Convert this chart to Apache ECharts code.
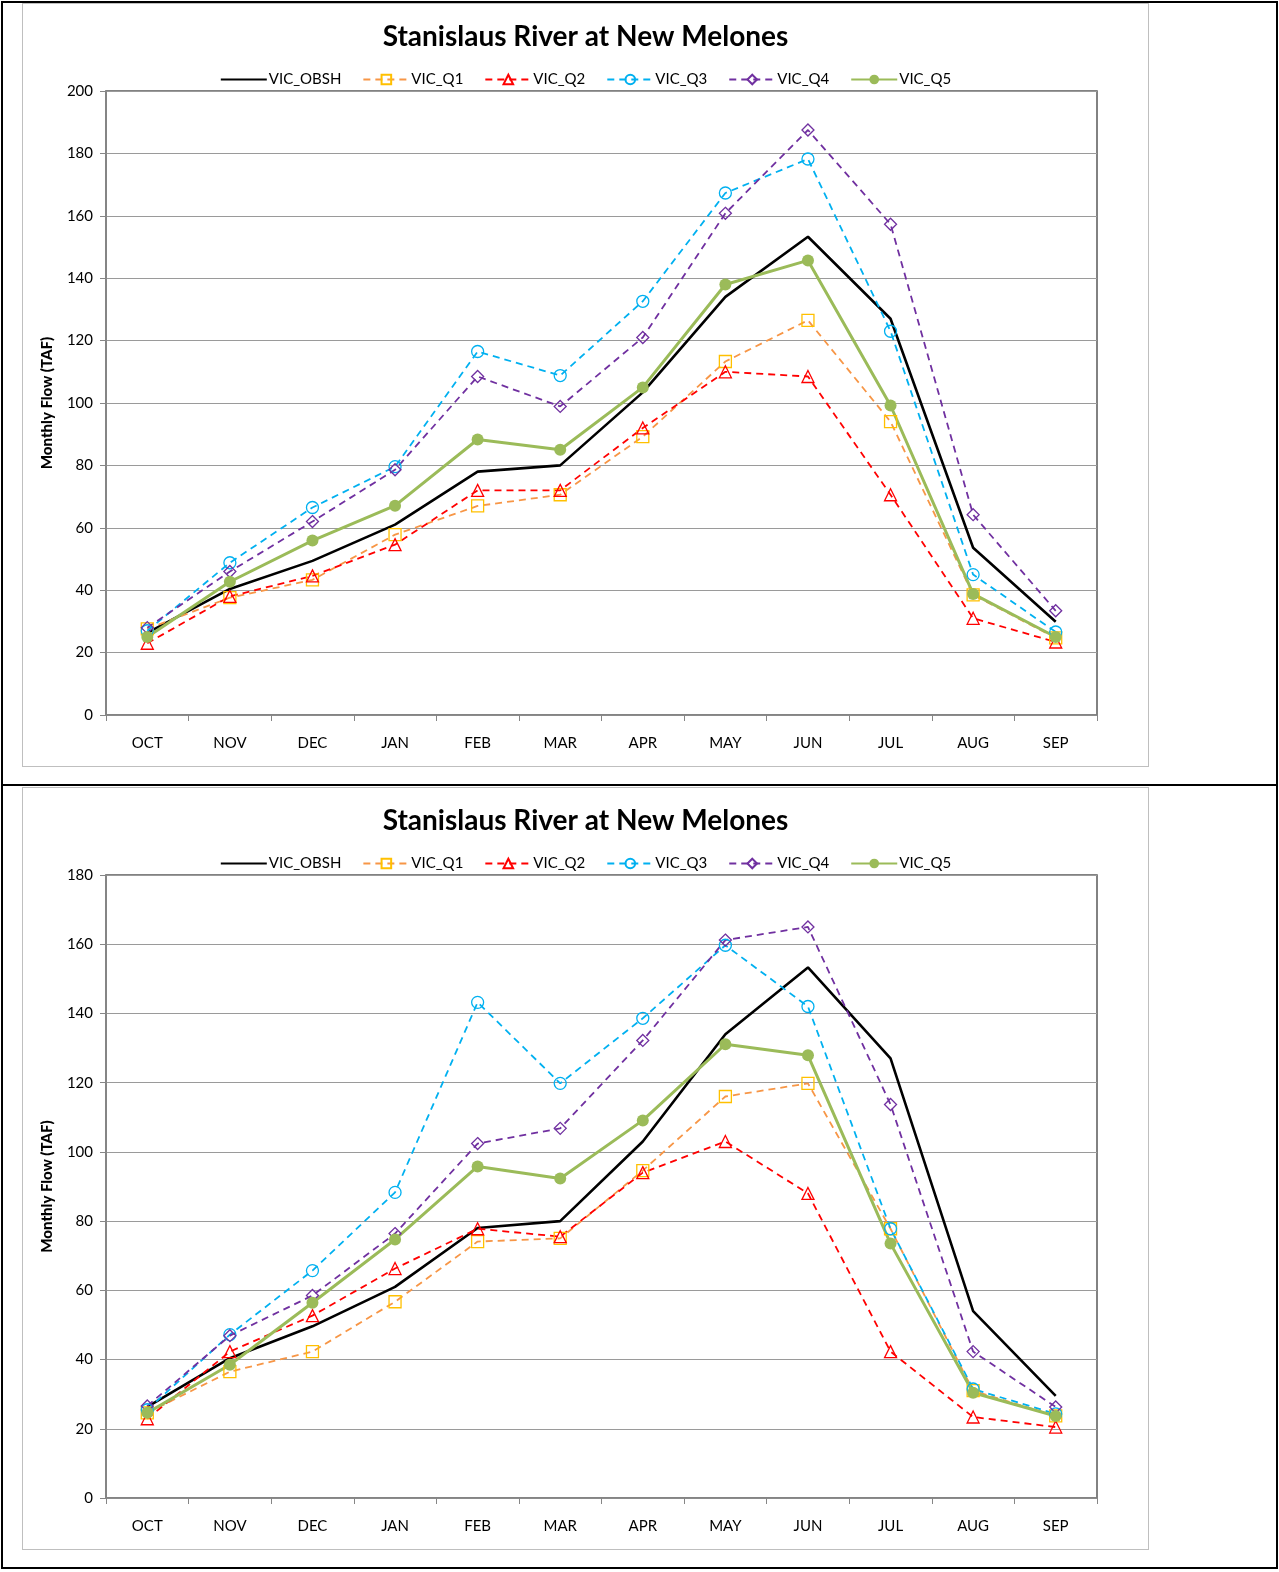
<!DOCTYPE html>
<html>
<head>
<meta charset="utf-8">
<script src="https://cdn.jsdelivr.net/npm/echarts@6/dist/echarts.min.js"></script>
<style>
  html, body { margin: 0; padding: 0; background: #fff; }
  #page { position: relative; width: 1279px; height: 1572px; }
  .frame { position: absolute; border: 2px solid #000; box-sizing: border-box; }
  .box { position: absolute; border: 1px solid #bfbfbf; box-sizing: border-box; }
  .chart { position: absolute; }
</style>
</head>
<body>
<div id="page">
  <div class="frame" style="left:1px;top:1px;width:1277px;height:785px;"></div>
  <div class="frame" style="left:1px;top:784px;width:1277px;height:785px;"></div>
  <div class="box" style="left:22px;top:3px;width:1127px;height:764px;"></div>
  <div class="box" style="left:22px;top:787px;width:1127px;height:763px;"></div>
  <div id="chartTop" class="chart" style="left:22px;top:3px;width:1127px;height:764px;"></div>
  <div id="chartBottom" class="chart" style="left:22px;top:787px;width:1127px;height:763px;"></div>
</div>
<script>
const months = ["OCT", "NOV", "DEC", "JAN", "FEB", "MAR", "APR", "MAY", "JUN", "JUL", "AUG", "SEP"];
const seriesNames = ["VIC_OBSH", "VIC_Q1", "VIC_Q2", "VIC_Q3", "VIC_Q4", "VIC_Q5"];

// top panel
const obshTop = [26.3, 40.4, 49.4, 61, 78, 80, 103.4, 134, 153.3, 127, 53.6, 29.9];
const q1Top = [27.6, 37.6, 43.3, 57.8, 67, 70.6, 89.2, 113.3, 126.5, 94, 38.5, 24.7];
const q2Top = [23, 38, 44.6, 54.6, 72, 72, 92, 110, 108.5, 70.6, 31, 23.4];
const q3Top = [27, 48.8, 66.5, 79.6, 116.5, 108.8, 132.6, 167.3, 178.2, 123, 45, 26.6];
const q4Top = [28, 46, 62, 78.6, 108.5, 98.9, 121, 160.8, 187.5, 157.3, 64.2, 33.4];
const q5Top = [25, 42.7, 55.9, 67.1, 88.3, 85, 105, 138, 145.7, 99.2, 38.8, 25];

// bottom panel
const obshBottom = [26.3, 40.4, 49.6, 61, 78, 80, 103, 134, 153.3, 127, 54, 29.5];
const q1Bottom = [24.6, 36.5, 42.3, 56.7, 74.1, 75, 94.6, 116, 119.8, 77.8, 31, 23.7];
const q2Bottom = [22.9, 42.3, 52.7, 66.3, 77.8, 75.5, 94, 103, 88, 42.3, 23.4, 20.5];
const q3Bottom = [25.5, 47.2, 65.7, 88.3, 143.2, 119.8, 138.6, 159.7, 142, 77.8, 31.5, 24.3];
const q4Bottom = [26.6, 46.9, 58.5, 76.4, 102.4, 106.8, 132.2, 161.2, 165, 113.7, 42.3, 26.3];
const q5Bottom = [24.6, 38.5, 56.4, 74.7, 95.8, 92.3, 109.1, 131.1, 127.9, 73.5, 30.4, 23.7];

const font = "Lato";

function dashed(name, data, lineColor, markColor, symbol) {
  return {
    name: name,
    type: "line",
    data: data,
    symbol: symbol,
    symbolSize: 12,
    lineStyle: { color: lineColor, width: 1.8, type: [7, 5] },
    itemStyle: { color: "rgba(255,255,255,0)", borderColor: markColor, borderWidth: 1.3 },
  };
}

function makeChart(id, yMax, data) {
  const chart = echarts.init(document.getElementById(id));
  const options = {
    animation: false,
    title: {
      text: "Stanislaus River at New Melones",
      left: "center",
      top: 15,
      textStyle: { fontFamily: font, fontWeight: "bold", fontSize: 28, color: "#000" },
    },
    legend: {
      top: 64,
      left: "center",
      itemWidth: 46,
      itemHeight: 12,
      itemGap: 21,
      data: [
        { name: "VIC_OBSH", itemStyle: { opacity: 0 } },
        "VIC_Q1", "VIC_Q2", "VIC_Q3", "VIC_Q4", "VIC_Q5",
      ],
      textStyle: { fontFamily: font, fontSize: 15, color: "#000", padding: [0, 0, 0, -3] },
    },
    grid: {
      left: 84,
      right: 52,
      top: 88,
      bottom: 52,
      show: true,
      borderColor: "#595959",
      borderWidth: 1.5,
    },
    xAxis: {
      type: "category",
      data: months,
      boundaryGap: true,
      axisLine: { lineStyle: { color: "#868686", width: 1.5 } },
      axisTick: { show: true, length: 6, lineStyle: { color: "#868686" } },
      axisLabel: { fontFamily: font, fontSize: 15, color: "#000", margin: 21 },
    },
    yAxis: {
      type: "value",
      min: 0,
      max: yMax,
      interval: 20,
      name: "Monthly Flow (TAF)",
      nameLocation: "middle",
      nameGap: 51,
      nameTextStyle: { fontFamily: font, fontWeight: 900, fontSize: 15, color: "#000" },
      axisLine: { show: true, lineStyle: { color: "#868686", width: 1.5 } },
      axisTick: { show: true, length: 6, lineStyle: { color: "#868686" } },
      axisLabel: { fontFamily: font, fontSize: 15, color: "#000", margin: 13 },
      splitLine: { lineStyle: { color: "#9a9a9a", width: 1.2 } },
    },
    series: [
      {
        name: "VIC_OBSH",
        type: "line",
        data: data[0],
        symbol: "none",
        lineStyle: { color: "#000", width: 2.6 },
        itemStyle: { color: "#000" },
      },
      dashed("VIC_Q1", data[1], "#F79646", "#FFC000", "rect"),
      dashed("VIC_Q2", data[2], "#FF0000", "#FF0000", "triangle"),
      dashed("VIC_Q3", data[3], "#00B0F0", "#00B0F0", "circle"),
      dashed("VIC_Q4", data[4], "#7030A0", "#7030A0", "diamond"),
      {
        name: "VIC_Q5",
        type: "line",
        data: data[5],
        symbol: "circle",
        symbolSize: 12,
        lineStyle: { color: "#9BBB59", width: 3 },
        itemStyle: { color: "#9BBB59" },
      },
    ],
  };
  chart.setOption(options);
  return chart;
}

makeChart("chartTop", 200, [obshTop, q1Top, q2Top, q3Top, q4Top, q5Top]);
makeChart("chartBottom", 180, [obshBottom, q1Bottom, q2Bottom, q3Bottom, q4Bottom, q5Bottom]);
</script>
</body>
</html>
